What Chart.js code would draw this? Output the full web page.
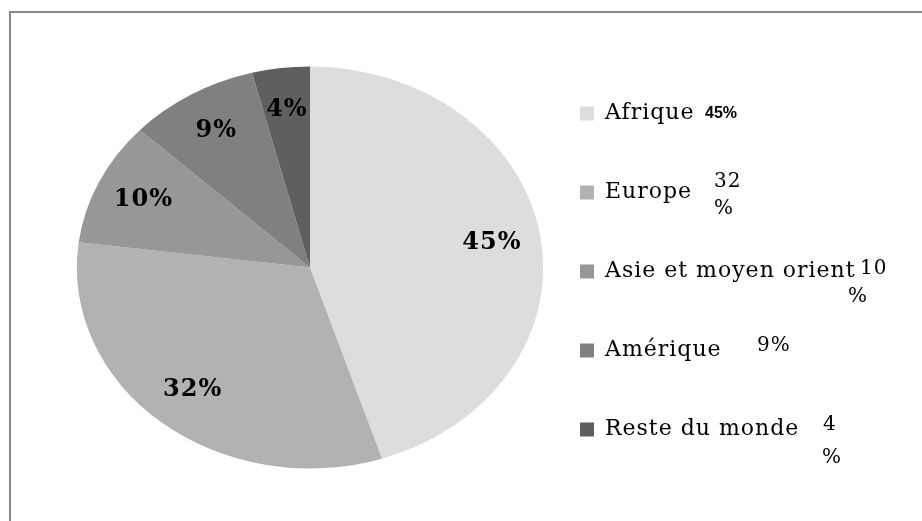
<!DOCTYPE html>
<html>
<head>
<meta charset="utf-8">
<script src="https://cdn.jsdelivr.net/npm/chart.js@4.4.1/dist/chart.umd.min.js"></script>
<style>
  html, body { margin: 0; padding: 0; background: #fff; }
  #wrap { width: 922px; height: 521px; position: relative; }
</style>
</head>
<body>
<div id="wrap"><canvas id="graficoRegions"></canvas></div>
<script>
// Données du graphique
const regions = ['Afrique', 'Europe', 'Asie et moyen orient', 'Amérique', 'Reste du monde'];
const parts = [45, 32, 10, 9, 4];
const gris = ['#dddddd', '#b2b2b2', '#979797', '#808080', '#5f5f5f'];
// étiquettes qui traînent à côté de la légende (coupées comme dans l'original)
const etiquettesLegende = [['45%'], ['32', '%'], ['10', '%'], ['9%'], ['4', '%']];

// placement de ces étiquettes : décalage depuis le carré de légende
const posEtiquettes = [
    [{ dx: 125, dy: 0 }],
    [{ dx: 134, dy: -11 }, { dx: 134, dy: 16 }],
    [{ dx: 280, dy: -3 }, { dx: 268, dy: 25 }],
    [{ dx: 177, dy: -5 }],
    [{ dx: 243, dy: -5 }, { dx: 242, dy: 28 }]
];

const ETIREMENT = 1.16;     // le camembert est légèrement ovale
const LARGEUR_LEGENDE = 343; // pour que le texte ne soit pas coupé

// Plugin : cadre gris + étirement horizontal du camembert + étiquettes
const cadreEtOvale = {
    id: 'cadreEtOvale',
    afterInit(chart) {
        // la légende calcule une largeur trop petite avec le padding -> on la force
        const legende = chart.legend;
        const fitOrig = legende.fit.bind(legende);
        legende.fit = function () {
            fitOrig();
            this.width = LARGEUR_LEGENDE;
        };
    },
    beforeUpdate(chart) {
        chart.ctx.letterSpacing = '1px';
    },
    beforeDraw(chart) {
        const ctx = chart.ctx;
        ctx.save();
        ctx.fillStyle = '#fff';
        ctx.fillRect(0, 0, chart.width, chart.height);
        ctx.strokeStyle = '#888';
        ctx.lineWidth = 2;
        ctx.strokeRect(10, 12, chart.width + 20, chart.height + 20);
        ctx.restore();
        ctx.letterSpacing = '1px';
    },
    beforeDatasetsDraw(chart) {
        const arc = chart.getDatasetMeta(0).data[0];
        const ctx = chart.ctx;
        ctx.save();
        ctx.translate(arc.x, arc.y);
        ctx.scale(ETIREMENT, 1);
        ctx.translate(-arc.x, -arc.y);
    },
    afterDatasetsDraw(chart) {
        chart.ctx.restore();
    },
    afterDraw(chart) {
        const ctx = chart.ctx;
        const arcs = chart.getDatasetMeta(0).data;
        ctx.save();
        ctx.fillStyle = '#000';
        ctx.textAlign = 'center';
        ctx.textBaseline = 'middle';
        ctx.letterSpacing = '1px';
        ctx.font = 'bold 24px "DejaVu Serif"';
        arcs.forEach((arc, i) => {
            const a = (arc.startAngle + arc.endAngle) / 2;
            const r = arc.outerRadius * 0.79;
            const x = arc.x + Math.cos(a) * r * ETIREMENT;
            const y = arc.y + Math.sin(a) * r;
            ctx.fillText(parts[i] + '%', x, y);
        });

        // étiquettes à côté de la légende
        ctx.textAlign = 'left';
        const boites = chart.legend.legendHitBoxes;
        boites.forEach((b, i) => {
            const yc = b.top + 11.5;
            etiquettesLegende[i].forEach((txt, j) => {
                const p = posEtiquettes[i][j];
                if (i === 0) {
                    ctx.font = 'bold 16px "Liberation Sans"';
                    ctx.letterSpacing = '0px';
                } else {
                    ctx.font = '20px "DejaVu Serif"';
                    ctx.letterSpacing = '1px';
                }
                ctx.fillText(txt, b.left + p.dx, yc + p.dy);
            });
        });
        ctx.restore();
    }
};

const ctx = document.getElementById('graficoRegions').getContext('2d');

new Chart(ctx, {
    type: 'pie',
    data: {
        labels: regions,
        datasets: [{
            data: parts,
            backgroundColor: gris,
            borderWidth: 0,
            radius: 201,
            clip: false
        }]
    },
    options: {
        responsive: true,
        maintainAspectRatio: false,
        animation: false,
        layout: {
            padding: { left: 97, right: 56, top: 14, bottom: 0 }
        },
        plugins: {
            tooltip: { enabled: false },
            legend: {
                position: 'right',
                align: 'center',
                title: { display: true, text: '', font: { size: 5 }, padding: 1 },
                labels: {
                    boxWidth: 14,
                    boxHeight: 14,
                    padding: 57,
                    color: '#000',
                    font: { family: '"DejaVu Serif"', size: 22 }
                }
            }
        }
    },
    plugins: [cadreEtOvale]
});
</script>
</body>
</html>
